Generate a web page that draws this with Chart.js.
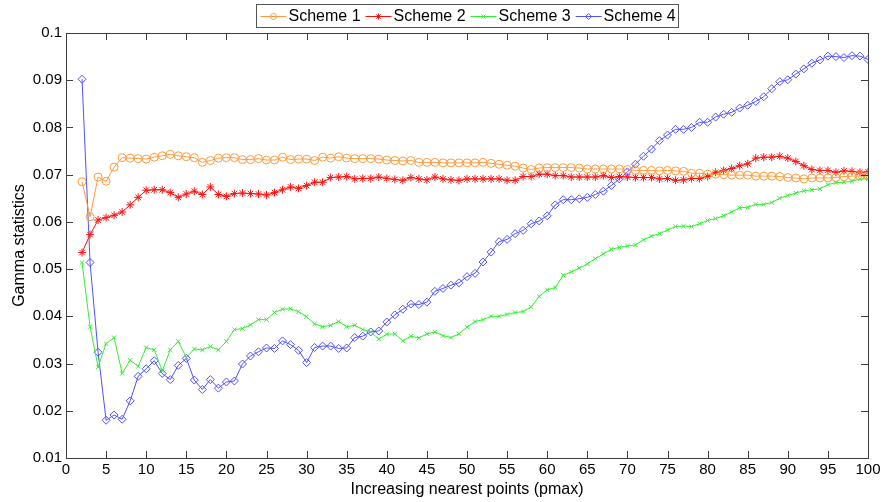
<!DOCTYPE html>
<html>
<head>
<meta charset="utf-8">
<script src="https://cdn.jsdelivr.net/npm/chart.js@4/dist/chart.umd.min.js"></script>
<style>
  html, body { margin: 0; padding: 0; background: #fff; }
  #wrap { width: 885px; height: 502px; }
</style>
</head>
<body>
<div id="wrap"><canvas id="gammaChart"></canvas></div>
<script>
// pmax values on the x axis
const pmax = [2,3,4,5,6,7,8,9,10,11,12,13,14,15,16,17,18,19,20,21,22,23,24,25,26,27,28,29,30,
  31,32,33,34,35,36,37,38,39,40,41,42,43,44,45,46,47,48,49,50,51,52,53,54,55,56,57,58,59,60,
  61,62,63,64,65,66,67,68,69,70,71,72,73,74,75,76,77,78,79,80,81,82,83,84,85,86,87,88,89,90,
  91,92,93,94,95,96,97,98,99,100];

const scheme1 = [0.0685,0.0611,0.0695,0.0686,0.0716,0.0736,0.0735,0.0734,0.0733,0.0737,0.0740,0.0743,0.0740,0.0738,0.0736,0.0726,0.0730,0.0735,0.0736,
  0.0736,0.0732,0.0732,0.0734,0.0731,0.0731,0.0737,0.0732,0.0733,0.0733,0.0730,0.0737,0.0735,0.0738,0.0735,0.0734,0.0734,0.0734,0.0733,0.0731,
  0.0730,0.0729,0.0730,0.0726,0.0726,0.0726,0.0725,0.0725,0.0725,0.0725,0.0725,0.0726,0.0724,0.0722,0.0720,0.0718,0.0714,0.0711,0.0714,0.0715,
  0.0715,0.0715,0.0715,0.0714,0.0712,0.0712,0.0712,0.0712,0.0712,0.0711,0.0709,0.0709,0.0709,0.0708,0.0709,0.0708,0.0707,0.0703,0.0703,0.0701,
  0.0701,0.0700,0.0699,0.0699,0.0699,0.0697,0.0697,0.0697,0.0696,0.0694,0.0693,0.0691,0.0693,0.0693,0.0693,0.0694,0.0696,0.0697,0.0697,0.0697];

const scheme2 = [0.0535,0.0573,0.0604,0.0609,0.0614,0.0621,0.0636,0.0652,0.0667,0.0668,0.0668,0.0662,0.0652,0.0659,0.0665,0.0658,0.0674,0.0658,0.0654,
  0.0660,0.0661,0.0660,0.0659,0.0657,0.0662,0.0668,0.0674,0.0671,0.0677,0.0684,0.0684,0.0694,0.0695,0.0696,0.0691,0.0692,0.0692,0.0695,0.0692,
  0.0690,0.0688,0.0694,0.0691,0.0689,0.0695,0.0691,0.0689,0.0688,0.0691,0.0691,0.0691,0.0691,0.0691,0.0688,0.0688,0.0696,0.0696,0.0701,0.0701,
  0.0698,0.0698,0.0695,0.0695,0.0695,0.0695,0.0698,0.0694,0.0696,0.0695,0.0694,0.0694,0.0694,0.0691,0.0692,0.0688,0.0689,0.0692,0.0692,0.0696,
  0.0705,0.0709,0.0713,0.0719,0.0723,0.0735,0.0737,0.0737,0.0739,0.0735,0.0728,0.0719,0.0711,0.0709,0.0709,0.0705,0.0708,0.0707,0.0705,0.0706];

const scheme3 = [0.0514,0.0378,0.0293,0.0342,0.0355,0.0279,0.0307,0.0294,0.0334,0.0329,0.0285,0.0329,0.0347,0.0313,0.0331,0.0329,0.0336,0.0329,0.0347,
  0.0372,0.0374,0.0382,0.0393,0.0393,0.0408,0.0415,0.0416,0.0410,0.0399,0.0384,0.0378,0.0381,0.0389,0.0378,0.0381,0.0372,0.0367,0.0352,0.0362,
  0.0363,0.0348,0.0358,0.0354,0.0363,0.0367,0.0359,0.0355,0.0363,0.0377,0.0389,0.0393,0.0400,0.0400,0.0404,0.0408,0.0410,0.0420,0.0442,0.0456,
  0.0461,0.0487,0.0494,0.0502,0.0511,0.0522,0.0532,0.0542,0.0546,0.0549,0.0551,0.0562,0.0570,0.0575,0.0583,0.0590,0.0591,0.0590,0.0596,0.0603,
  0.0607,0.0613,0.0621,0.0630,0.0631,0.0637,0.0637,0.0641,0.0650,0.0656,0.0661,0.0666,0.0668,0.0670,0.0679,0.0683,0.0684,0.0686,0.0691,0.0691];

const scheme4 = [0.0902,0.0514,0.0324,0.0180,0.0191,0.0182,0.0221,0.0273,0.0289,0.0306,0.0279,0.0266,0.0296,0.0311,0.0265,0.0245,0.0266,0.0248,0.0261,
  0.0263,0.0299,0.0316,0.0325,0.0333,0.0332,0.0348,0.0340,0.0328,0.0302,0.0334,0.0337,0.0337,0.0332,0.0333,0.0355,0.0358,0.0367,0.0369,0.0388,
  0.0403,0.0415,0.0426,0.0425,0.0430,0.0453,0.0459,0.0466,0.0471,0.0484,0.0491,0.0515,0.0536,0.0558,0.0563,0.0575,0.0582,0.0596,0.0602,0.0613,
  0.0636,0.0647,0.0647,0.0649,0.0652,0.0658,0.0665,0.0677,0.0691,0.0706,0.0722,0.0739,0.0754,0.0772,0.0784,0.0796,0.0796,0.0800,0.0811,0.0811,
  0.0822,0.0828,0.0832,0.0841,0.0847,0.0855,0.0865,0.0882,0.0897,0.0901,0.0913,0.0924,0.0936,0.0943,0.0951,0.0950,0.0948,0.0952,0.0951,0.0944];

const xTicks = [0,5,10,15,20,25,30,35,40,45,50,55,60,65,70,75,80,85,90,95,100];
const yTicks = [0.01,0.02,0.03,0.04,0.05,0.06,0.07,0.08,0.09,0.1];
const yTickLabels = ['0.01','0.02','0.03','0.04','0.05','0.06','0.07','0.08','0.09','0.1'];

const FONT = "'Liberation Sans', Arial, sans-serif";
const AXIS_COLOR = '#3c3c3c';

function toPoints(values) {
  return pmax.map((p, i) => ({ x: p, y: values[i] }));
}

function series(label, values, color, style, radius) {
  return {
    label: label,
    data: toPoints(values),
    borderColor: color,
    backgroundColor: 'rgba(0,0,0,0)',
    borderWidth: 1,
    pointStyle: style,
    pointRadius: radius,
    pointBorderColor: color,
    pointBackgroundColor: 'rgba(0,0,0,0)',
    pointBorderWidth: 1,
    tension: 0
  };
}

// MATLAB-like box with inward ticks on all four sides, plus the legend box
const boxAxes = {
  id: 'boxAxes',
  afterDraw(chart) {
    const { ctx, chartArea: a, scales } = chart;
    ctx.save();
    ctx.strokeStyle = AXIS_COLOR;
    ctx.lineWidth = 1;
    ctx.beginPath();
    xTicks.forEach(v => {
      const px = Math.round(scales.x.getPixelForValue(v)) + 0.5;
      ctx.moveTo(px, a.bottom); ctx.lineTo(px, a.bottom - 7);
      ctx.moveTo(px, a.top); ctx.lineTo(px, a.top + 7);
    });
    yTicks.forEach(v => {
      const py = Math.round(scales.y.getPixelForValue(v)) + 0.5;
      ctx.moveTo(a.left, py); ctx.lineTo(a.left + 7, py);
      ctx.moveTo(a.right, py); ctx.lineTo(a.right - 7, py);
    });
    ctx.stroke();
    ctx.strokeRect(Math.round(a.left) + 0.5, Math.round(a.top) + 0.5,
      Math.round(a.right - a.left), Math.round(a.bottom - a.top));

    // legend
    const items = chart.data.datasets;
    ctx.font = '16px ' + FONT;
    const lineLen = 26, gapTxt = 2, gapItem = 5, padL = 4, padR = 3;
    let total = padL + padR;
    items.forEach((d, i) => {
      total += lineLen + gapTxt + ctx.measureText(d.label).width + (i < items.length - 1 ? gapItem : 0);
    });
    const bx = Math.round((a.left + a.right) / 2 - total / 2) + 0.5;
    const by = 4.5, bh = 23;
    ctx.fillStyle = '#fff';
    ctx.fillRect(bx, by, total, bh);
    ctx.strokeStyle = '#555';
    ctx.strokeRect(bx, by, Math.round(total), bh);
    let cx = bx + padL;
    const cy = by + bh / 2;
    items.forEach(d => {
      const ly = Math.round(cy) + 0.5;
      ctx.strokeStyle = d.borderColor;
      ctx.lineWidth = 1;
      ctx.beginPath();
      ctx.moveTo(cx, ly); ctx.lineTo(cx + lineLen, ly);
      ctx.stroke();
      ctx.fillStyle = 'rgba(0,0,0,0)';
      Chart.helpers.drawPoint(ctx, {
        pointStyle: d.pointStyle, radius: 3, rotation: 0, borderWidth: 1
      }, cx + lineLen / 2, ly);
      cx += lineLen + gapTxt;
      ctx.fillStyle = '#000';
      ctx.textBaseline = 'middle';
      ctx.textAlign = 'left';
      ctx.fillText(d.label, cx, cy + 1);
      cx += ctx.measureText(d.label).width + gapItem;
    });
    ctx.restore();
  }
};

const ctx = document.getElementById('gammaChart').getContext('2d');
const gammaChart = new Chart(ctx, {
  type: 'line',
  data: {
    datasets: [
      series('Scheme 1', scheme1, '#ff9a3c', 'circle', 4),
      series('Scheme 2', scheme2, '#ff1010', 'star', 4),
      series('Scheme 3', scheme3, '#33ee33', 'crossRot', 3),
      series('Scheme 4', scheme4, '#5050ff', 'rectRot', 4)
    ]
  },
  options: {
    responsive: true,
    maintainAspectRatio: false,
    animation: false,
    devicePixelRatio: 1,
    layout: { padding: { top: 33, right: 17, left: 0, bottom: 0 } },
    plugins: {
      legend: { display: false },
      tooltip: { enabled: false }
    },
    scales: {
      x: {
        type: 'linear',
        min: 0,
        max: 100,
        afterBuildTicks: s => { s.ticks = xTicks.map(v => ({ value: v })); },
        afterFit: s => { s.height = 44; },
        grid: { display: false, drawTicks: false },
        border: { display: false },
        ticks: { color: '#000', font: { family: FONT, size: 15 }, padding: 3, maxRotation: 0, autoSkip: false },
        title: {
          display: true,
          text: 'Increasing nearest points (pmax)',
          color: '#000',
          font: { family: FONT, size: 16 },
          padding: { top: 0, bottom: 3 }
        }
      },
      y: {
        type: 'linear',
        min: 0.01,
        max: 0.1,
        afterBuildTicks: s => { s.ticks = yTicks.map(v => ({ value: v })); },
        afterFit: s => { s.width = 66; },
        grid: { display: false, drawTicks: false },
        border: { display: false },
        ticks: {
          color: '#000',
          font: { family: FONT, size: 15 },
          padding: 4,
          autoSkip: false,
          callback: (v) => yTickLabels[yTicks.findIndex(t => Math.abs(t - v) < 1e-9)]
        },
        title: {
          display: true,
          text: 'Gamma statistics',
          color: '#000',
          font: { family: FONT, size: 16 },
          padding: { top: 10, bottom: 0 }
        }
      }
    }
  },
  plugins: [boxAxes]
});
</script>
</body>
</html>
